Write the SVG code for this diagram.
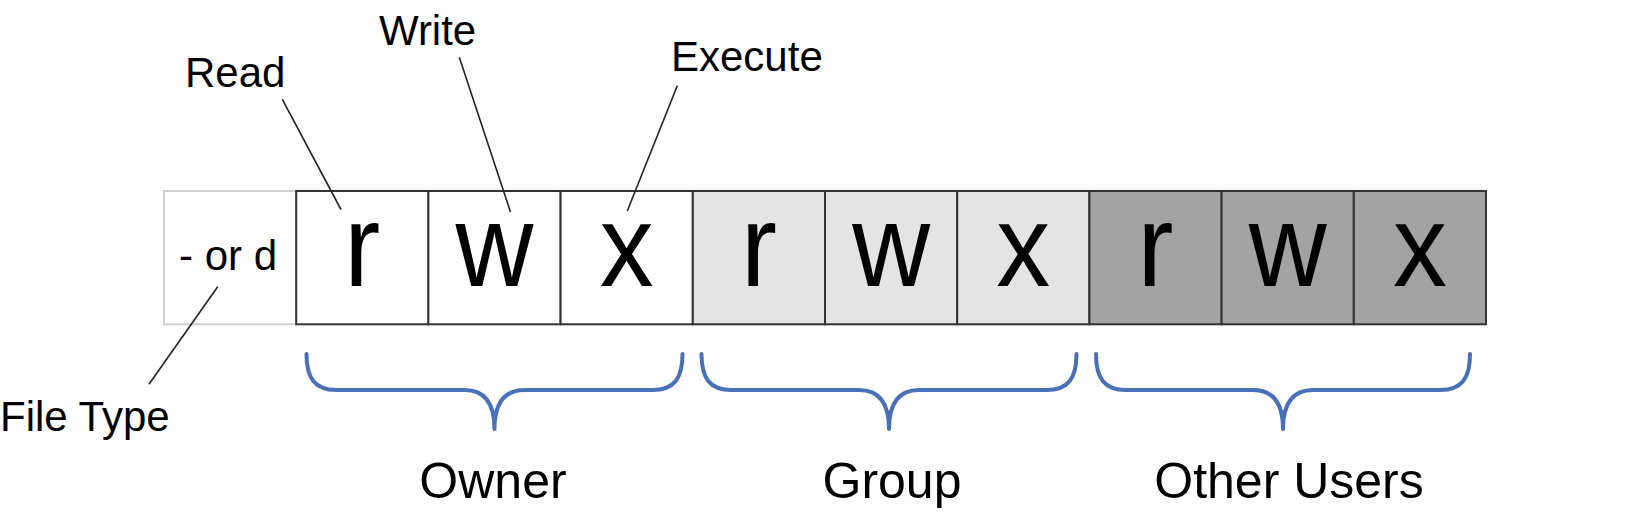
<svg xmlns="http://www.w3.org/2000/svg" width="1652" height="520" viewBox="0 0 1652 520">
  <style>
    .lbl { font-family: "Liberation Sans", Arial, sans-serif; font-size: 42px; fill: #000; }
    .grp { font-family: "Liberation Sans", Arial, sans-serif; font-size: 50px; fill: #000; text-anchor: middle; }
    .big { font-family: "Liberation Sans", Arial, sans-serif; font-size: 116px; fill: #000; text-anchor: middle; }
    .cell { stroke: #333; stroke-width: 2; }
    .own { fill: #ffffff; }
    .gp { fill: #e4e4e4; }
    .oth { fill: #a3a3a3; }
    .lead { stroke: #222; stroke-width: 1.6; fill: none; }
    .brace { stroke: #4a70b8; stroke-width: 4; fill: none; stroke-linecap: round; stroke-linejoin: round; }
  </style>
  <rect width="1652" height="520" fill="#ffffff"/>

  <g id="filetype-cell">
    <rect x="164" y="191" width="132.2" height="133.3" fill="#ffffff" stroke="#cfcfcf" stroke-width="2"/>
    <text class="lbl" x="228" y="270" font-size="43" text-anchor="middle">- or d</text>
  </g>

  <g id="owner-r"><rect class="cell own" x="296.2" y="191" width="132.2" height="133.3"/><text class="big" transform="translate(362.3,286) scale(0.93,1)">r</text></g>
  <g id="owner-w"><rect class="cell own" x="428.4" y="191" width="132.2" height="133.3"/><text class="big" transform="translate(494.5,286) scale(0.93,1)">w</text></g>
  <g id="owner-x"><rect class="cell own" x="560.6" y="191" width="132.2" height="133.3"/><text class="big" transform="translate(626.7,286) scale(0.93,1)">x</text></g>

  <g id="group-r"><rect class="cell gp" x="692.8" y="191" width="132.2" height="133.3"/><text class="big" transform="translate(758.9,286) scale(0.93,1)">r</text></g>
  <g id="group-w"><rect class="cell gp" x="825" y="191" width="132.2" height="133.3"/><text class="big" transform="translate(891.1,286) scale(0.93,1)">w</text></g>
  <g id="group-x"><rect class="cell gp" x="957.2" y="191" width="132.2" height="133.3"/><text class="big" transform="translate(1023.3,286) scale(0.93,1)">x</text></g>

  <g id="other-r"><rect class="cell oth" x="1089.4" y="191" width="132.2" height="133.3"/><text class="big" transform="translate(1155.5,286) scale(0.93,1)">r</text></g>
  <g id="other-w"><rect class="cell oth" x="1221.6" y="191" width="132.2" height="133.3"/><text class="big" transform="translate(1287.7,286) scale(0.93,1)">w</text></g>
  <g id="other-x"><rect class="cell oth" x="1353.8" y="191" width="132.2" height="133.3"/><text class="big" transform="translate(1419.9,286) scale(0.93,1)">x</text></g>

  <g id="label-read"><text class="lbl" x="185" y="87.3">Read</text></g>
  <g id="label-write"><text class="lbl" x="379" y="45">Write</text></g>
  <g id="label-execute"><text class="lbl" x="671" y="71">Execute</text></g>
  <g id="label-filetype"><text class="lbl" x="0" y="431">File Type</text></g>

  <g id="connectors">
    <line class="lead" x1="282.3" y1="99.3" x2="341" y2="209.5"/>
    <line class="lead" x1="459.3" y1="57.3" x2="510.5" y2="212"/>
    <line class="lead" x1="677.3" y1="85.7" x2="627.3" y2="211"/>
    <line class="lead" x1="217.7" y1="286.7" x2="149" y2="384.3"/>
  </g>

  <g id="brace-owner">
    <path class="brace" d="M306.5,354 C306.5,378 314.5,390 336.5,390 H464.5 C480.5,390 494.5,398 494.5,429 C494.5,398 508.5,390 524.5,390 H652.5 C674.5,390 682.5,378 682.5,354"/>
    <text class="grp" x="493" y="498">Owner</text>
  </g>
  <g id="brace-group">
    <path class="brace" d="M701.5,354 C701.5,378 709.5,390 731.5,390 H859 C875,390 889,398 889,429 C889,398 903,390 919,390 H1046.5 C1068.5,390 1076.5,378 1076.5,354"/>
    <text class="grp" x="892" y="497.5">Group</text>
  </g>
  <g id="brace-other">
    <path class="brace" d="M1096,354 C1096,378 1104,390 1126,390 H1253 C1269,390 1283,398 1283,429 C1283,398 1297,390 1313,390 H1440 C1462,390 1470,378 1470,354"/>
    <text class="grp" x="1289" y="498">Other Users</text>
  </g>
</svg>
